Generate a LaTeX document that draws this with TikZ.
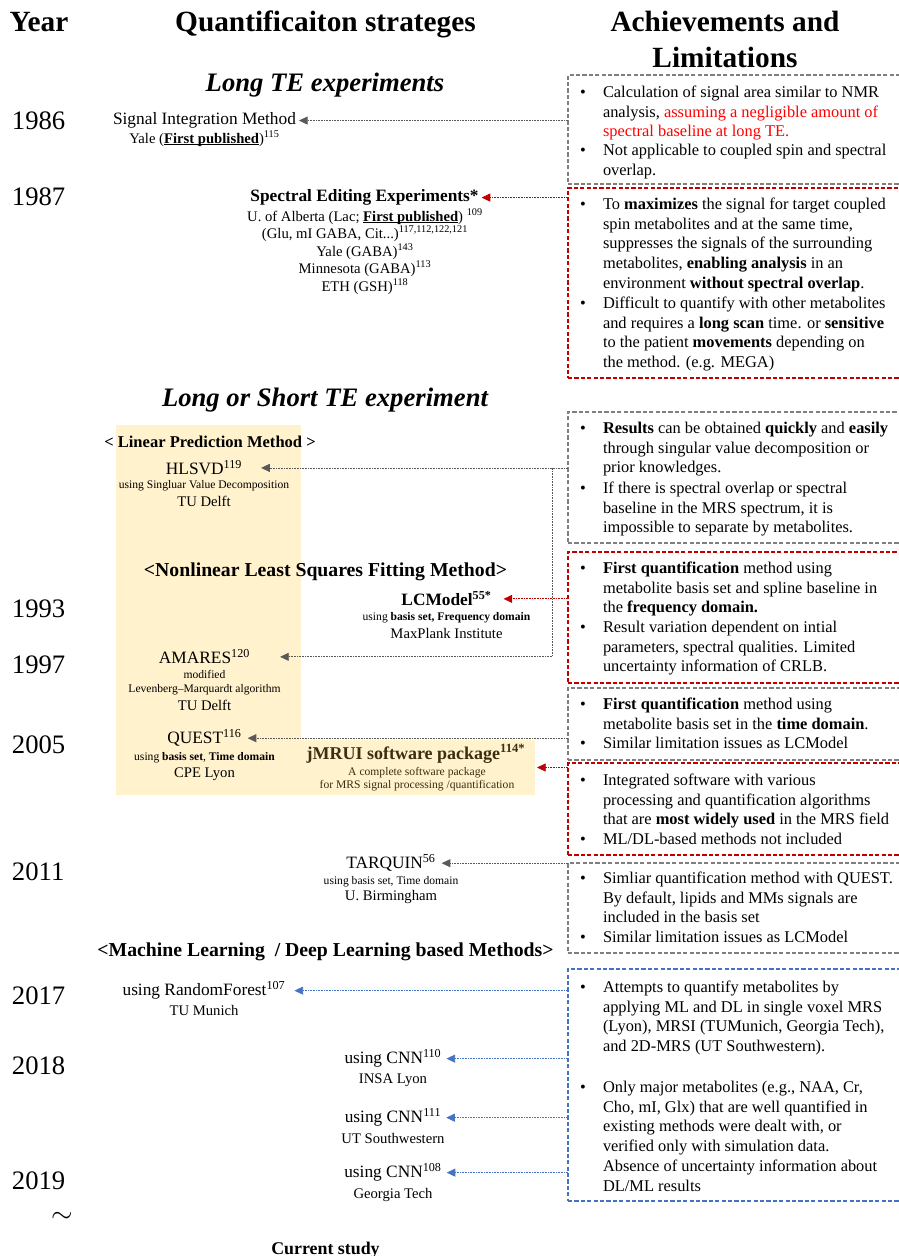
\documentclass[tikz,border=0pt]{standalone}
\usepackage{fontspec}
\setmainfont{Liberation Serif}
\usetikzlibrary{arrows.meta,calc}
\definecolor{conGrey}{HTML}{595959}
\definecolor{boxGrey}{HTML}{7F7F7F}
\definecolor{accRed}{HTML}{C00000}
\definecolor{accBlue}{HTML}{4472C4}
\definecolor{paleYellow}{HTML}{FFF2CC}
\definecolor{hiRed}{HTML}{FF0000}
\definecolor{darkBrown}{HTML}{3B2F10}
\newcommand{\hl}[1]{\textcolor{hiRed}{#1}}
% bold, underlined "First published"
\newcommand{\fp}{\textbf{\setbox0=\hbox{First published}\rlap{\rule[-1.6pt]{\wd0}{0.55pt}}\box0}}
% multi-line text whose reference point is the first baseline
\newcommand{\ltab}[1]{\begin{tabular}[t]{@{}l@{}}#1\end{tabular}}
\newcommand{\ctab}[1]{\begin{tabular}[t]{@{}c@{}}#1\end{tabular}}
\begin{document}
\begin{tikzpicture}[x=0.75pt,y=-0.75pt,
  every node/.style={inner sep=0pt,outer sep=0pt},
  ttl/.style={font=\fontsize{22}{27}\selectfont\bfseries,anchor=base},
  sect/.style={font=\fontsize{20}{24}\selectfont\bfseries\itshape,anchor=base},
  yr/.style={font=\fontsize{20}{24}\selectfont,anchor=base west},
  mth/.style={font=\fontsize{13}{15}\selectfont,anchor=base},
  inst/.style={font=\fontsize{11}{13}\selectfont,anchor=base},
  tiny/.style={font=\fontsize{8.7}{10.5}\selectfont,anchor=base},
  grp/.style={font=\fontsize{14.8}{17}\selectfont\bfseries,anchor=base},
  itm/.style={font=\fontsize{12.3}{14.8}\selectfont,anchor=base west},
  bul/.style={font=\fontsize{12.3}{14.8}\selectfont,anchor=base},
  ylw/.style={fill=paleYellow,anchor=north west},
  frame/.style={anchor=north west,minimum width=342*0.75pt,line width=1.2pt,
    dash pattern=on 3.2pt off 1.6pt},
  gbox/.style={frame,draw=boxGrey,line width=1.1pt},
  rbox/.style={frame,draw=accRed},
  bbox/.style={frame,draw=accBlue},
  con/.style={line width=0.6pt,dash pattern=on 1.2pt off 0.8pt,
    -{Triangle[length=6.5pt,width=6pt]}},
  gcon/.style={con,draw=conGrey},
  rcon/.style={con,draw=accRed},
  bcon/.style={con,draw=accBlue}]
\useasboundingbox (0,0) rectangle (899,1256);
\clip (0,0) rectangle (899,1256);
\fill[white] (0,0) rectangle (899,1256);

% shaded blocks behind the fitting methods
\node[ylw,minimum width=185*0.75pt,minimum height=370*0.75pt] (lpbg) at (116,425) {};
\node[ylw,minimum width=234*0.75pt,minimum height=55*0.75pt] (jmbg) at (301,740) {};

% column headings
\node[ttl] (hYear) at (39,32) {Year};
\node[ttl] (hQuant) at (325.5,32) {Quantificaiton strateges};
\node[ttl] (hAch) at (725,32) {\ctab{Achievements and\\Limitations}};

% section headings
\node[sect] (sLong) at (325,92) {Long TE experiments};
\node[sect] (sShort) at (325,406) {Long or Short TE experiment};

% years
\node[yr] (y1986) at (12,129) {1986};
\node[yr] (y1987) at (12,205) {1987};
\node[yr] (y1993) at (12,617) {1993};
\node[yr] (y1997) at (12,673) {1997};
\node[yr] (y2005) at (12,753) {2005};
\node[yr] (y2011) at (12,880) {2011};
\node[yr] (y2017) at (12,1004) {2017};
\node[yr] (y2018) at (12,1074) {2018};
\node[yr] (y2019) at (12,1189) {2019};
\node[font=\fontsize{20}{24}\selectfont] (yTilde) at (62,1217) {$\sim$};

% methods
\node[mth] (sim) at (204.5,124.7) {Signal Integration Method};
\node[inst] (simA) at (204.5,143) {Yale (\fp)\textsuperscript{115}};

\node[mth,font=\fontsize{13}{15}\selectfont\bfseries] (see) at (364.5,201.7) {Spectral Editing Experiments*};
\node[inst] (seeA) at (365,221) {U. of Alberta (Lac; \fp) \textsuperscript{109}};
\node[inst] (seeB) at (365,238) {(Glu, mI GABA, Cit...)\textsuperscript{117,112,122,121}};
\node[inst] (seeC) at (365,256) {Yale (GABA)\textsuperscript{143}};
\node[inst] (seeD) at (365,273) {Minnesota (GABA)\textsuperscript{113}};
\node[inst] (seeE) at (365,291) {ETH (GSH)\textsuperscript{118}};

\node[font=\fontsize{12.4}{15}\selectfont\bfseries,anchor=base] (lpm) at (210,447.5) {< Linear Prediction Method >};
\node[mth] (hlsvd) at (204,474.7) {HLSVD\textsuperscript{119}};
\node[tiny] (hlA) at (204,488.8) {using Singluar Value Decomposition};
\node[inst] (hlB) at (204,506) {TU Delft};

\node[grp] (nlls) at (325.5,576.5) {<Nonlinear Least Squares Fitting Method>};
\node[mth] (lcm) at (446.5,605.7) {\textbf{LCModel\textsuperscript{55*}}};
\node[tiny] (lcA) at (446.5,620.8) {using \textbf{basis set, Frequency domain}};
\node[inst] (lcB) at (446.5,638) {MaxPlank Institute};

\node[mth] (ama) at (204.5,663.7) {AMARES\textsuperscript{120}};
\node[tiny] (amA) at (204.5,678.8) {modified};
\node[tiny] (amB) at (204.5,692.8) {Levenberg--Marquardt algorithm};
\node[inst] (amC) at (204.5,710) {TU Delft};

\node[mth] (quest) at (204.5,743.7) {QUEST\textsuperscript{116}};
\node[tiny] (quA) at (204.5,760.8) {using \textbf{basis set}, \textbf{Time domain}};
\node[inst] (quB) at (204.5,777) {CPE Lyon};

\node[mth,font=\fontsize{13.5}{15}\selectfont\bfseries,text=darkBrown] (jm) at (416,759) {jMRUI software package\textsuperscript{114*}};
\node[tiny,text=darkBrown] (jmA) at (417,775.8) {A complete software package};
\node[tiny,text=darkBrown] (jmB) at (417,788.8) {for MRS signal processing /quantification};

\node[mth] (tq) at (391,868.7) {TARQUIN\textsuperscript{56}};
\node[tiny] (tqA) at (391,884.8) {using basis set, Time domain};
\node[inst] (tqB) at (391,900) {U. Birmingham};

\node[grp] (ml) at (325.5,956.5) {<Machine Learning\ \ / Deep Learning based Methods>};
\node[mth] (rf) at (204,995.7) {using RandomForest\textsuperscript{107}};
\node[inst] (rfA) at (204,1015) {TU Munich};
\node[mth] (cnnA) at (393,1063.7) {using CNN\textsuperscript{110}};
\node[inst] (cnnAi) at (393,1083) {INSA Lyon};
\node[mth] (cnnB) at (393,1122.7) {using CNN\textsuperscript{111}};
\node[inst] (cnnBi) at (393,1143) {UT Southwestern};
\node[mth] (cnnC) at (393,1177.7) {using CNN\textsuperscript{108}};
\node[inst] (cnnCi) at (393,1198) {Georgia Tech};

\node[font=\fontsize{13.4}{15}\selectfont\bfseries,anchor=base] (cur) at (325.5,1254) {Current study};

% achievement / limitation boxes
\node[gbox,minimum height=109*0.75pt] (b1) at (568,75) {};
\node[rbox,minimum height=190*0.75pt] (b2) at (568,188) {};
\node[gbox,minimum height=131*0.75pt] (b3) at (568,412) {};
\node[rbox,minimum height=131*0.75pt] (b4) at (568,552) {};
\node[gbox,minimum height=72*0.75pt] (b5) at (568,688) {};
\node[rbox,minimum height=92*0.75pt] (b6) at (568,763) {};
\node[gbox,minimum height=90*0.75pt] (b7) at (568,863) {};
\node[bbox,minimum height=232*0.75pt] (b8) at (568,969) {};

\node[bul] (d11) at (583,97.5) {\textbullet};
\node[itm] (t11) at (603,97.5) {\ltab{Calculation of signal area similar to NMR\\analysis, \hl{assuming a negligible amount of}\\\hl{spectral baseline at long TE.}}};
\node[bul] (d12) at (583,155.5) {\textbullet};
\node[itm] (t12) at (603,155.5) {\ltab{Not applicable to coupled spin and spectral\\overlap.}};

\node[bul] (d21) at (583,209.5) {\textbullet};
\node[itm] (t21) at (603,209.5) {\ltab{To \textbf{maximizes} the signal for target coupled\\spin metabolites and at the same time,\\suppresses the signals of the surrounding\\metabolites, \textbf{enabling analysis} in an\\environment \textbf{without spectral overlap}.}};
\node[bul] (d22) at (583,308.5) {\textbullet};
\node[itm] (t22) at (603,308.5) {\ltab{Difficult to quantify with other metabolites\\and requires a \textbf{long scan} time. or \textbf{sensitive}\\to the patient \textbf{movements} depending on\\the method. (e.g. MEGA)}};

\node[bul] (d31) at (583,433.5) {\textbullet};
\node[itm] (t31) at (603,433.5) {\ltab{\textbf{Results} can be obtained \textbf{quickly} and \textbf{easily}\\through singular value decomposition or\\prior knowledges.}};
\node[bul] (d32) at (583,493.5) {\textbullet};
\node[itm] (t32) at (603,493.5) {\ltab{If there is spectral overlap or spectral\\baseline in the MRS spectrum, it is\\impossible to separate by metabolites.}};

\node[bul] (d41) at (583,573.5) {\textbullet};
\node[itm] (t41) at (603,573.5) {\ltab{\textbf{First quantification} method using\\metabolite basis set and spline baseline in\\the \textbf{frequency domain.}}};
\node[bul] (d42) at (583,632.5) {\textbullet};
\node[itm] (t42) at (603,632.5) {\ltab{Result variation dependent on intial\\parameters, spectral qualities. Limited\\uncertainty information of CRLB.}};

\node[bul] (d51) at (583,709.5) {\textbullet};
\node[itm] (t51) at (603,709.5) {\ltab{\textbf{First quantification} method using\\metabolite basis set in the \textbf{time domain}.}};
\node[bul] (d52) at (583,748.5) {\textbullet};
\node[itm] (t52) at (603,748.5) {Similar limitation issues as LCModel};

\node[bul] (d61) at (583,785.5) {\textbullet};
\node[itm] (t61) at (603,785.5) {\ltab{Integrated software with various\\processing and quantification algorithms\\that are \textbf{most widely used} in the MRS field}};
\node[bul] (d62) at (583,844.5) {\textbullet};
\node[itm] (t62) at (603,844.5) {ML/DL-based methods not included};

\node[bul] (d71) at (583,883.5) {\textbullet};
\node[itm] (t71) at (603,883.5) {\ltab{Simliar quantification method with QUEST.\\By default, lipids and MMs signals are\\included in the basis set}};
\node[bul] (d72) at (583,942.5) {\textbullet};
\node[itm] (t72) at (603,942.5) {Similar limitation issues as LCModel};

\node[bul] (d81) at (583,992.5) {\textbullet};
\node[itm] (t81) at (603,992.5) {\ltab{Attempts to quantify metabolites by\\applying ML and DL in single voxel MRS\\(Lyon), MRSI (TUMunich, Georgia Tech),\\and 2D-MRS (UT Southwestern).}};
\node[bul] (d82) at (583,1092.5) {\textbullet};
\node[itm] (t82) at (603,1092.5) {\ltab{Only major metabolites (e.g., NAA, Cr,\\Cho, mI, Glx) that are well quantified in\\existing methods were dealt with, or\\verified only with simulation data.\\Absence of uncertainty information about\\DL/ML results}};

% connectors from the boxes to the methods
\draw[gcon] (b1.west |- sim.east) -- ([xshift=2.25pt]sim.east);
\draw[rcon] (b2.west |- see.east) -- ([xshift=2.25pt]see.east);
\draw[gcon] (b3.west |- hlsvd.east) -- ([xshift=14.25pt]hlsvd.east);
\coordinate (jn) at ($(b3.west |- hlsvd.east)+(-16,0)$);
\draw[gcon] (jn) |- ([xshift=22.5pt]ama.east);
\draw[rcon] (b4.west |- lcm.east) -- ([xshift=9pt]lcm.east);
\draw[gcon] (b5.west |- quest.east) -- ([xshift=4.5pt]quest.east);
\draw[rcon] (b6.west |- jmbg.east) -- ([xshift=1.5pt]jmbg.east);
\draw[gcon] (b7.west |- tq.east) -- ([xshift=4.5pt]tq.east);
\draw[bcon] (b8.west |- rf.east) -- ([xshift=6.75pt]rf.east);
\draw[bcon] (b8.west |- cnnA.east) -- ([xshift=3.75pt]cnnA.east);
\draw[bcon] (b8.west |- cnnB.east) -- ([xshift=3.75pt]cnnB.east);
\draw[bcon] (b8.west |- cnnC.east) -- ([xshift=3.75pt]cnnC.east);
\end{tikzpicture}
\end{document}
